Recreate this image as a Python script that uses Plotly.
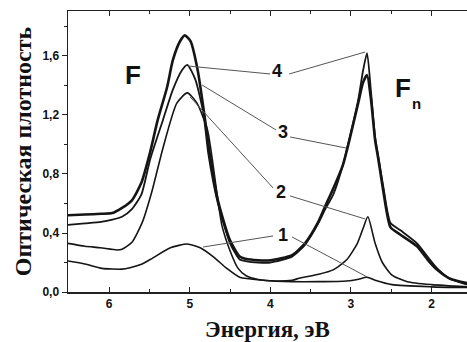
import plotly.graph_objects as go

# ---- data (energy in eV, optical density) ----
e1 = [6.51, 6.30, 6.09, 5.84, 5.74, 5.59, 5.49, 5.24, 5.03, 4.87, 4.71, 4.54, 4.38, 4.09, 3.73, 3.40, 3.05, 2.92, 2.80, 2.70, 2.49, 2.00, 1.56]
d1 = [0.21, 0.19, 0.16, 0.155, 0.165, 0.19, 0.22, 0.30, 0.325, 0.30, 0.24, 0.16, 0.10, 0.08, 0.07, 0.07, 0.075, 0.085, 0.10, 0.08, 0.05, 0.035, 0.03]

e2 = [6.51, 6.30, 6.11, 5.90, 5.84, 5.72, 5.59, 5.47, 5.33, 5.16, 5.03, 4.91, 4.78, 4.72, 4.65, 4.60, 4.50, 4.40, 4.30, 4.15, 3.94, 3.73, 3.63, 3.40, 3.22, 3.05, 2.92, 2.85, 2.79, 2.70, 2.61, 2.49, 2.30, 2.00, 1.56]
d2 = [0.33, 0.31, 0.30, 0.285, 0.29, 0.335, 0.47, 0.68, 0.98, 1.28, 1.35, 1.28, 1.10, 0.90, 0.62, 0.45, 0.28, 0.16, 0.11, 0.085, 0.075, 0.08, 0.095, 0.12, 0.15, 0.22, 0.33, 0.43, 0.51, 0.33, 0.20, 0.115, 0.07, 0.05, 0.035]

e3 = [6.51, 6.30, 6.10, 5.96, 5.84, 5.72, 5.60, 5.49, 5.40, 5.28, 5.21, 5.12, 5.06, 4.99, 4.90, 4.81, 4.75, 4.65, 4.50, 4.38, 4.31, 4.15, 4.00, 3.73, 3.57, 3.41, 3.32, 3.22, 3.10, 3.01, 2.91, 2.85, 2.80, 2.75, 2.70, 2.66, 2.60, 2.51, 2.39, 2.18, 2.05, 1.93, 1.77, 1.56]
d3 = [0.52, 0.525, 0.53, 0.535, 0.57, 0.62, 0.74, 0.95, 1.16, 1.39, 1.57, 1.70, 1.74, 1.70, 1.50, 1.17, 0.93, 0.62, 0.35, 0.24, 0.225, 0.215, 0.215, 0.25, 0.33, 0.47, 0.58, 0.70, 0.86, 1.05, 1.28, 1.42, 1.47, 1.30, 1.03, 0.90, 0.69, 0.44, 0.39, 0.31, 0.22, 0.15, 0.09, 0.06]

e4 = [6.51, 6.30, 6.10, 5.96, 5.84, 5.72, 5.60, 5.49, 5.33, 5.21, 5.10, 5.03, 4.93, 4.83, 4.77, 4.65, 4.50, 4.38, 4.31, 4.15, 4.00, 3.73, 3.57, 3.41, 3.32, 3.22, 3.10, 3.01, 2.91, 2.85, 2.80, 2.75, 2.70, 2.66, 2.60, 2.51, 2.39, 2.18, 2.05, 1.93, 1.77, 1.56]
d4 = [0.455, 0.465, 0.475, 0.49, 0.51, 0.56, 0.66, 0.90, 1.17, 1.37, 1.50, 1.54, 1.44, 1.21, 0.94, 0.60, 0.33, 0.22, 0.21, 0.20, 0.20, 0.24, 0.32, 0.46, 0.56, 0.66, 0.86, 1.06, 1.30, 1.50, 1.62, 1.35, 1.05, 0.92, 0.72, 0.47, 0.42, 0.33, 0.24, 0.16, 0.09, 0.05]

curve_names = ["1", "2", "3", "4"]
curve_widths = [1.6, 1.6, 2.6, 1.8]

x_ticks = [6, 5, 4, 3, 2]
y_ticks = [0.0, 0.4, 0.8, 1.2, 1.6]
x_title = "Энергия, эВ"
y_title = "Оптическая плотность"

# curve labels with leader lines (label pos, leader segments)
labels = [("4", 3.916, 1.498), ("3", 3.841, 1.085), ("2", 3.866, 0.678), ("1", 3.841, 0.386)]
leaders = [
    (5.020, 1.532, 4.002, 1.478), (3.767, 1.478, 2.824, 1.627),
    (4.846, 1.403, 3.928, 1.098), (3.754, 1.051, 3.060, 0.976),
    (4.995, 1.322, 3.965, 0.705), (3.754, 0.651, 2.824, 0.495),
    (4.834, 0.305, 3.965, 0.380), (3.730, 0.373, 2.799, 0.102),
]

fig = go.Figure()
for e, d, name, w in zip([e1, e2, e3, e4], [d1, d2, d3, d4], curve_names, curve_widths):
    fig.add_trace(go.Scatter(x=e, y=d, mode="lines", name=name,
                             line=dict(color="#151515", width=w, shape="spline", smoothing=0.6),
                             showlegend=False, hoverinfo="skip"))

for x0, y0, x1, y1 in leaders:
    fig.add_shape(type="line", xref="x", yref="y", x0=x0, y0=y0, x1=x1, y1=y1,
                  line=dict(color="#555555", width=1))

for t, x, y in labels:
    fig.add_annotation(x=x, y=y, xref="x", yref="y", text=t, showarrow=False,
                       font=dict(family="Liberation Sans", size=18, color="#111", weight="bold"))

fig.add_annotation(x=5.70, y=1.47, xref="x", yref="y", text="F", showarrow=False,
                   font=dict(family="Liberation Sans", size=26, color="#111", weight="bold"))
fig.add_annotation(x=2.36, y=1.38, xref="x", yref="y", text="F", showarrow=False,
                   font=dict(family="Liberation Sans", size=26, color="#111", weight="bold"))
fig.add_annotation(x=2.19, y=1.28, xref="x", yref="y", text="n", showarrow=False,
                   font=dict(family="Liberation Sans", size=15, color="#111", weight="bold"))

fig.update_layout(
    width=467, height=342,
    margin=dict(l=68, r=0, t=11, b=50),
    paper_bgcolor="white", plot_bgcolor="white",
    separators=", ",
    font=dict(family="Liberation Sans", color="#111"),
)
fig.update_xaxes(
    range=[6.51, 1.56], tickvals=x_ticks, ticktext=[str(v) for v in x_ticks],
    ticks="inside", ticklen=5, tickwidth=1, tickcolor="#222",
    minor=dict(dtick=0.5, ticks="inside", ticklen=3, tickcolor="#222"),
    showline=True, linecolor="#222", linewidth=1.5, mirror="ticks",
    showgrid=False, zeroline=False, automargin=False,
    tickfont=dict(family="Liberation Sans", size=12, color="#111", weight="bold"),
    title=dict(text=x_title, standoff=13,
               font=dict(family="Liberation Serif", size=23, color="#111", weight="bold")),
)
fig.update_yaxes(
    range=[0, 1.905], tickvals=y_ticks, tickformat=".1f",
    ticks="outside", ticklen=5, tickwidth=1, tickcolor="#222",
    minor=dict(dtick=0.2, ticks="outside", ticklen=3, tickcolor="#222"),
    showline=True, linecolor="#222", linewidth=1.5, mirror=True,
    showgrid=False, zeroline=False, automargin=False,
    tickfont=dict(family="Liberation Sans", size=12, color="#111", weight="bold"),
    title=dict(text=y_title, standoff=4,
               font=dict(family="Liberation Serif", size=24, color="#111", weight="bold")),
)

fig.write_html("out.html", config={"displayModeBar": False, "staticPlot": True},
               post_script="document.body.style.margin='0';document.body.style.padding='0';")
